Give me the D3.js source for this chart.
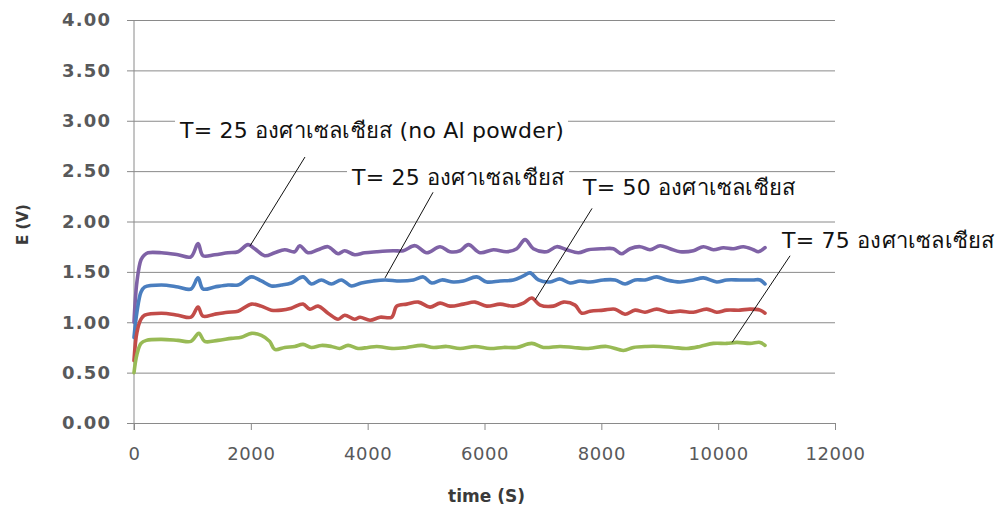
<!DOCTYPE html>
<html>
<head>
<meta charset="utf-8">
<script src="https://cdn.jsdelivr.net/npm/d3@7"></script>
<style>
  html, body { margin: 0; padding: 0; background: #fff; }
  svg { display: block; }
</style>
</head>
<body>
<svg id="chart" width="1000" height="510"></svg>
<script>
// Electrode potential E (V) versus time (s) at several temperatures
const yTicks = [0, 0.5, 1.0, 1.5, 2.0, 2.5, 3.0, 3.5, 4.0];
const xTicks = [0, 2000, 4000, 6000, 8000, 10000, 12000];

const seriesNoAl25 = [[0,1.00],[50,1.40],[120,1.62],[183,1.67],[240,1.69],[470,1.69],[753,1.67],[975,1.65],[1096,1.78],[1181,1.66],[1381,1.67],[1610,1.69],[1781,1.70],[1952,1.77],[2066,1.73],[2237,1.66],[2409,1.69],[2580,1.72],[2751,1.70],[2837,1.76],[2979,1.69],[3150,1.72],[3321,1.75],[3493,1.68],[3607,1.71],[3778,1.67],[3950,1.69],[4155,1.70],[4440,1.71],[4611,1.71],[4811,1.76],[5011,1.69],[5239,1.75],[5410,1.70],[5581,1.71],[5724,1.77],[5924,1.69],[6153,1.72],[6381,1.70],[6552,1.73],[6694,1.82],[6837,1.73],[7065,1.70],[7236,1.75],[7408,1.72],[7607,1.69],[7780,1.72],[8035,1.73],[8206,1.73],[8349,1.68],[8492,1.73],[8663,1.75],[8834,1.72],[9005,1.76],[9176,1.73],[9348,1.70],[9576,1.71],[9747,1.75],[9918,1.72],[10089,1.74],[10260,1.73],[10432,1.75],[10603,1.72],[10688,1.70],[10802,1.74]];

const series25 = [[0,0.85],[50,1.10],[120,1.30],[183,1.35],[470,1.37],[753,1.35],[975,1.33],[1096,1.44],[1181,1.33],[1381,1.35],[1610,1.37],[1781,1.37],[2009,1.45],[2180,1.41],[2351,1.36],[2523,1.37],[2694,1.39],[2894,1.45],[3036,1.38],[3207,1.42],[3379,1.38],[3550,1.42],[3721,1.36],[3892,1.39],[4098,1.41],[4297,1.42],[4554,1.41],[4783,1.42],[4954,1.45],[5096,1.39],[5268,1.42],[5467,1.40],[5638,1.41],[5867,1.45],[6038,1.40],[6267,1.41],[6495,1.42],[6666,1.46],[6780,1.49],[6923,1.42],[7122,1.40],[7293,1.43],[7465,1.39],[7636,1.41],[7807,1.40],[8035,1.42],[8235,1.42],[8406,1.38],[8577,1.42],[8749,1.42],[8948,1.45],[9119,1.42],[9348,1.40],[9576,1.42],[9747,1.44],[9975,1.40],[10146,1.42],[10375,1.42],[10603,1.42],[10717,1.42],[10802,1.38]];

const series50 = [[0,0.62],[50,0.90],[120,1.03],[183,1.07],[470,1.09],[753,1.07],[975,1.05],[1096,1.15],[1181,1.06],[1381,1.08],[1610,1.10],[1781,1.11],[2009,1.18],[2180,1.16],[2351,1.12],[2523,1.12],[2694,1.14],[2894,1.18],[3008,1.13],[3150,1.16],[3321,1.09],[3493,1.03],[3607,1.07],[3778,1.03],[3869,1.05],[4041,1.02],[4212,1.05],[4412,1.05],[4497,1.16],[4669,1.18],[4868,1.20],[5068,1.15],[5239,1.19],[5410,1.16],[5638,1.18],[5838,1.20],[6038,1.16],[6267,1.18],[6495,1.16],[6666,1.19],[6809,1.24],[6951,1.17],[7179,1.16],[7351,1.20],[7550,1.17],[7664,1.09],[7807,1.11],[8035,1.12],[8235,1.13],[8406,1.08],[8577,1.12],[8749,1.10],[8948,1.13],[9148,1.10],[9348,1.11],[9576,1.10],[9804,1.13],[9975,1.10],[10146,1.12],[10375,1.12],[10546,1.13],[10717,1.12],[10802,1.09]];

const series75 = [[0,0.50],[50,0.68],[120,0.79],[212,0.82],[470,0.83],[753,0.82],[975,0.81],[1110,0.89],[1210,0.81],[1438,0.82],[1667,0.84],[1838,0.85],[2009,0.89],[2180,0.87],[2323,0.81],[2409,0.73],[2580,0.75],[2751,0.76],[2894,0.78],[3036,0.75],[3207,0.77],[3379,0.76],[3522,0.74],[3664,0.77],[3835,0.74],[4006,0.75],[4155,0.76],[4440,0.74],[4669,0.75],[4925,0.77],[5125,0.75],[5353,0.76],[5581,0.74],[5838,0.76],[6095,0.74],[6324,0.75],[6552,0.75],[6809,0.79],[7008,0.75],[7293,0.76],[7522,0.75],[7750,0.74],[8092,0.76],[8378,0.72],[8549,0.75],[8777,0.76],[9005,0.76],[9233,0.75],[9462,0.74],[9690,0.76],[9918,0.79],[10146,0.79],[10318,0.80],[10546,0.79],[10717,0.80],[10802,0.77]];

const seriesColors = ["#7f62a6", "#4a7ebf", "#c24c49", "#98ba55"];
const seriesList = [seriesNoAl25, series25, series50, series75];

// Callout labels: text, where the leader touches the curve, where it ends, where the text starts
const calloutText = ["T= 25 องศาเซลเซียส (no Al powder)", "T= 25 องศาเซลเซียส", "T= 50 องศาเซลเซียส", "T= 75 องศาเซลเซียส"];
const calloutAnchor = [[1986, 1.757], [4297, 1.44], [6865, 1.22], [10238, 0.80]];
const calloutEnd = [[2927, 2.64], [5119, 2.29], [7841, 2.13], [11231, 1.66]];
const calloutPos = [[788, 2.91], [3732, 2.44], [7687, 2.34], [11094, 1.81]];

const svg = d3.select("#chart");
const margin = { left: 134, right: 165, top: 20, bottom: 87 };
const W = 1000, H = 510;

const x = d3.scaleLinear().domain([0, 12000]).range([margin.left, W - margin.right]);
const y = d3.scaleLinear().domain([0, 4]).range([H - margin.bottom, margin.top]);

const gridColor = "#8a8a8a";
const tickFont = "'DejaVu Sans', Verdana, sans-serif";

// horizontal gridlines with left tick stubs
svg.append("g")
  .attr("transform", `translate(${margin.left},0)`)
  .call(d3.axisLeft(y).tickValues(yTicks).tickFormat(d3.format(".2f"))
    .tickSize(-(W - margin.right - margin.left)))
  .call(g => g.select(".domain").remove())
  .call(g => g.selectAll(".tick line").attr("stroke", gridColor).attr("x1", -7))
  .call(g => g.selectAll(".tick text")
    .attr("text-anchor", "start").attr("x", -72)
    .attr("fill", "#58595b").attr("font-size", 18).attr("font-weight", "bold")
    .attr("font-family", tickFont).attr("letter-spacing", "1.2px"));

// vertical axis line
svg.append("line")
  .attr("x1", x(0)).attr("x2", x(0))
  .attr("y1", y(4)).attr("y2", y(0) + 7)
  .attr("stroke", gridColor);

// bottom axis
svg.append("g")
  .attr("transform", `translate(0,${y(0)})`)
  .call(d3.axisBottom(x).tickValues(xTicks).tickFormat(d3.format("d")).tickSize(7).tickPadding(17))
  .call(g => g.select(".domain").attr("stroke", gridColor))
  .call(g => g.selectAll(".tick line").attr("stroke", gridColor))
  .call(g => g.selectAll(".tick text")
    .attr("fill", "#58595b").attr("font-size", 18)
    .attr("font-family", tickFont).attr("letter-spacing", "0.6px"));

// axis titles
svg.append("text")
  .attr("x", x(6000) + 2).attr("y", 502)
  .attr("text-anchor", "middle")
  .attr("font-family", tickFont).attr("font-weight", "bold").attr("font-size", 17)
  .attr("fill", "#3a3a3a")
  .text("time (S)");

svg.append("text")
  .attr("transform", `translate(28,${y(1.97)}) rotate(-90)`)
  .attr("text-anchor", "middle")
  .attr("font-family", tickFont).attr("font-weight", "bold").attr("font-size", 15)
  .attr("fill", "#3a3a3a")
  .text("E (V)");

// curves
const line = d3.line()
  .x(d => x(d[0]))
  .y(d => y(d[1]))
  .curve(d3.curveCatmullRom.alpha(0.5));

svg.append("g").selectAll("path")
  .data(seriesList)
  .join("path")
  .attr("d", line)
  .attr("fill", "none")
  .attr("stroke", (d, i) => seriesColors[i])
  .attr("stroke-width", 3.6)
  .attr("stroke-linejoin", "round")
  .attr("stroke-linecap", "round");

// callouts: white boxed labels with thin leader lines
const callouts = svg.append("g");
calloutText.forEach((txt, i) => {
  const g = callouts.append("g");
  const t = g.append("text")
    .attr("x", x(calloutPos[i][0])).attr("y", y(calloutPos[i][1]))
    .attr("dy", "0.35em")
    .attr("font-family", "Tahoma, 'DejaVu Sans', sans-serif")
    .attr("font-size", 22)
    .attr("letter-spacing", "0.2px")
    .attr("fill", "#111")
    .text(txt);
  const bb = t.node().getBBox();
  g.insert("rect", "text")
    .attr("x", bb.x - 4).attr("y", bb.y - 1)
    .attr("width", bb.width + 8).attr("height", bb.height + 2)
    .attr("fill", "#fff");
  g.append("line")
    .attr("x1", x(calloutAnchor[i][0])).attr("y1", y(calloutAnchor[i][1]))
    .attr("x2", x(calloutEnd[i][0])).attr("y2", y(calloutEnd[i][1]))
    .attr("stroke", "#111").attr("stroke-width", 1);
});
</script>
</body>
</html>
